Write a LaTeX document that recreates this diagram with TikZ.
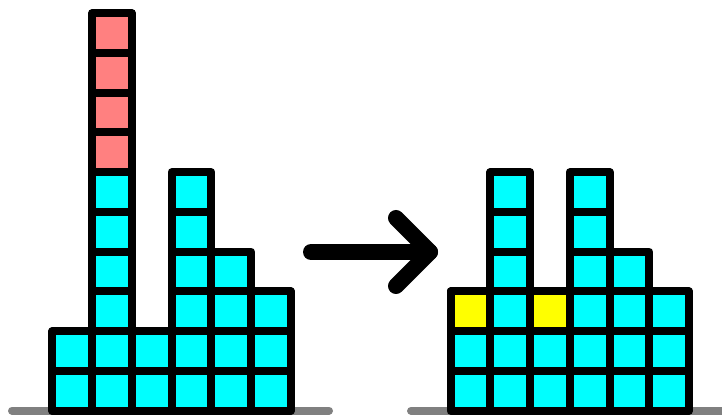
\documentclass[tikz,border=0pt]{standalone}
\usepackage{tikz}
\usetikzlibrary{calc}
\definecolor{stkcyan}  {HTML}{00FFFF}
\definecolor{stkred}   {HTML}{FF8080}
\definecolor{stkyellow}{HTML}{FFFF00}
\definecolor{stkgray}  {HTML}{808080}
\tikzset{
  stkcell/.style={draw=black, line width=8pt, line join=round, fill=stkcyan,
                  minimum width=39.75pt, minimum height=39.75pt,
                  inner sep=0pt, outer sep=0pt},
  stkextra/.style={stkcell, fill=stkred},
  stkfilled/.style={stkcell, fill=stkyellow},
  stkfloor/.style={draw=stkgray, line width=8pt, line cap=round},
  stkarrow/.style={draw=black, line width=16pt, line cap=round, line join=round},
}
\begin{document}
\begin{tikzpicture}[x=1pt,y=1pt]
  \useasboundingbox (0,0) rectangle (722,415);

  % floors
  \coordinate (floorL-a) at (12,4.3);
  \coordinate (floorL-b) at (329,4.3);
  \coordinate (floorR-a) at (411,4.3);
  \coordinate (floorR-b) at (740,4.3);
  \draw[stkfloor] (floorL-a) -- (floorL-b);
  \draw[stkfloor] (floorR-a) -- (floorR-b);

  % left stack (column/height)
  \foreach \c/\h in {1/2, 2/6, 3/2, 4/6, 5/4, 6/3} {
    \foreach \r in {1,...,\h}
      \node[stkcell] (L\c-\r) at (32.45+39.75*\c, -15.6+39.75*\r) {};
  }
  \foreach \r in {7,...,10}
    \node[stkextra] (L2-\r) at (32.45+39.75*2, -15.6+39.75*\r) {};

  % right stack (column/height)
  \foreach \c/\h in {1/3, 2/6, 3/3, 4/6, 5/4, 6/3} {
    \foreach \r in {1,...,\h}
      \node[stkcell] (R\c-\r) at (430.65+39.75*\c, -15.6+39.75*\r) {};
  }
  \foreach \c in {1,3}
    \node[stkfilled] (R\c-3) at (430.65+39.75*\c, -15.6+39.75*3) {};

  % arrow
  \coordinate (arrtail) at (311,163);
  \coordinate (arrtip)  at (430,163);
  \draw[stkarrow] (arrtail) -- (arrtip);
  \draw[stkarrow] ($(arrtip)+(-34,34)$) -- (arrtip) -- ($(arrtip)+(-34,-34)$);
\end{tikzpicture}
\end{document}
